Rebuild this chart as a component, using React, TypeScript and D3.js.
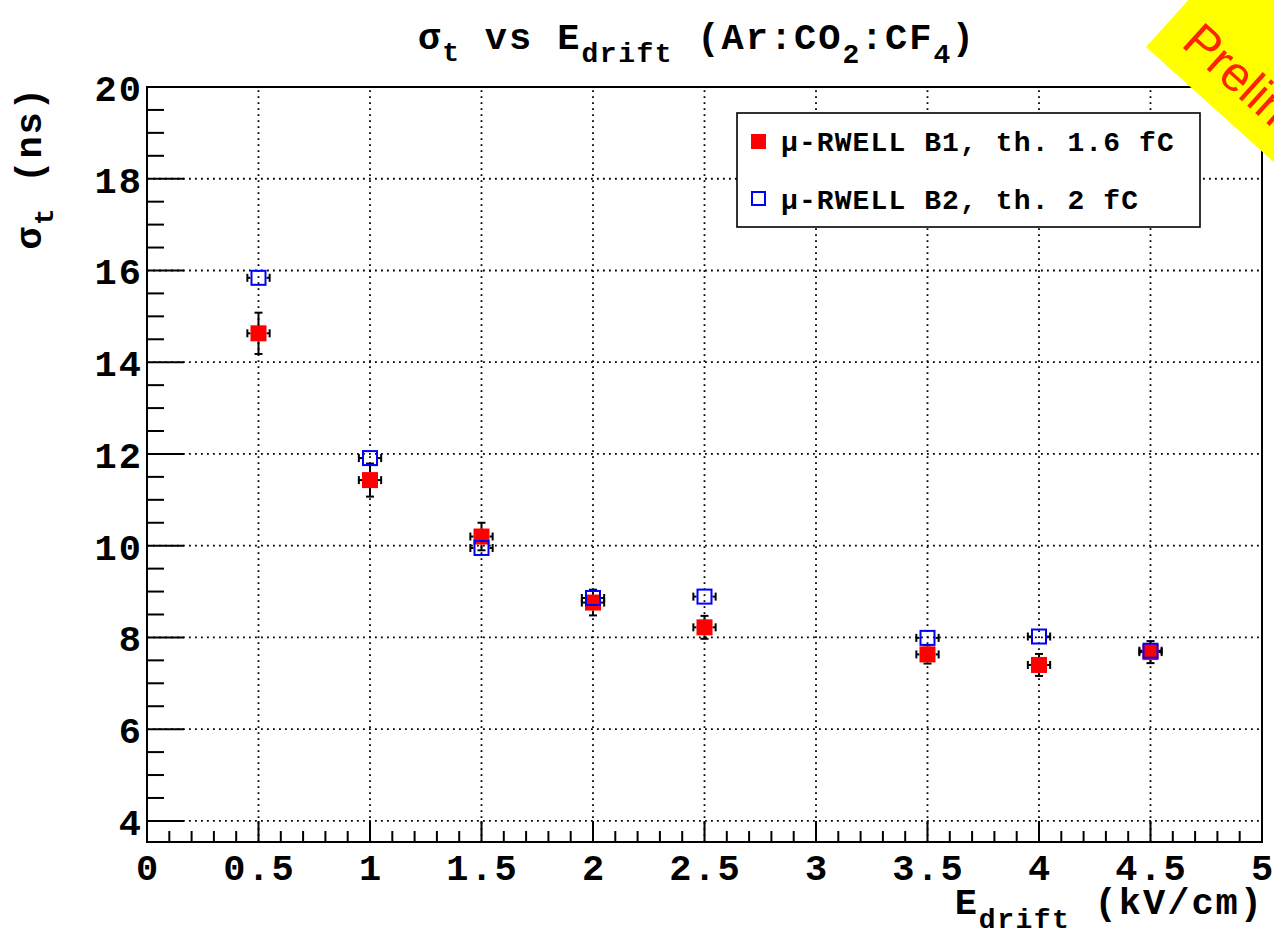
import React from "react";
import * as d3 from "d3";

// ---- data ----
const eDrift = [0.5, 1.0, 1.5, 2.0, 2.5, 3.5, 4.0, 4.5];
const b1Sigma = [14.63, 11.43, 10.2, 8.76, 8.22, 7.63, 7.4, 7.68];
const b1Err = [0.45, 0.36, 0.3, 0.28, 0.25, 0.2, 0.24, 0.24];
const b2Sigma = [15.84, 11.91, 9.95, 8.86, 8.89, 7.99, 8.02, 7.71];
const b2Err = [0.12, 0.12, 0.12, 0.1, 0.1, 0.1, 0.1, 0.1];
const eDriftErr = 0.05;
const xTicks = [0, 0.5, 1, 1.5, 2, 2.5, 3, 3.5, 4, 4.5, 5];
const yTicks = [4, 6, 8, 10, 12, 14, 16, 18, 20];
const legendLabels = ["μ-RWELL B1, th. 1.6 fC", "μ-RWELL B2, th. 2 fC"];

const W = 1274;
const H = 932;
const L = 147, R = 1262, T = 87, B = 842;
const mono = "'Liberation Mono', 'DejaVu Sans Mono', monospace";

export default function App() {
  const x = d3.scaleLinear().domain([0, 5]).range([L, R]);
  const y = d3.scaleLinear().domain([3.54, 20]).range([B, T]);

  const xMinor = d3.range(0, 50.5, 1).map((v) => v / 10).filter((v) => Math.abs(v * 2 - Math.round(v * 2)) > 1e-6);
  const yMinor = d3.range(7, 41, 1).map((v) => v / 2).filter((v) => v >= 3.54 && v <= 20 && Math.abs(v / 2 - Math.round(v / 2)) > 1e-6);

  const h = 8; // marker half size
  const cap = 4;

  const errBars = (vals: number[], errs: number[], key: string) =>
    eDrift.map((xv, i) => {
      const cx = x(xv);
      const cy = y(vals[i]);
      const xl = x(xv - eDriftErr);
      const xr = x(xv + eDriftErr);
      const yt = y(vals[i] + errs[i]);
      const yb = y(vals[i] - errs[i]);
      const segs: JSX.Element[] = [];
      if (cx - xl > h) {
        segs.push(<line key="l" x1={xl} x2={cx - h} y1={cy} y2={cy} />);
        segs.push(<line key="lc" x1={xl} x2={xl} y1={cy - cap} y2={cy + cap} />);
        segs.push(<line key="r" x1={cx + h} x2={xr} y1={cy} y2={cy} />);
        segs.push(<line key="rc" x1={xr} x2={xr} y1={cy - cap} y2={cy + cap} />);
      }
      if (cy - yt > h) {
        segs.push(<line key="t" x1={cx} x2={cx} y1={yt} y2={cy - h} />);
        segs.push(<line key="tc" x1={cx - cap} x2={cx + cap} y1={yt} y2={yt} />);
        segs.push(<line key="b" x1={cx} x2={cx} y1={cy + h} y2={yb} />);
        segs.push(<line key="bc" x1={cx - cap} x2={cx + cap} y1={yb} y2={yb} />);
      }
      return (
        <g key={key + i} stroke="#000" strokeWidth={2}>
          {segs}
        </g>
      );
    });

  const mainFs = 37, mainLs = 2, subFs = 28, subLs = 1.5;

  return (
    <svg
      width={W}
      height={H}
      style={{ position: "absolute", left: 0, top: 0, background: "#fff" }}
      fontFamily={mono}
    >
      <rect x={0} y={0} width={W} height={H} fill="#fff" />

      {/* grid */}
      <g stroke="#000" strokeWidth={1.8} strokeDasharray="1.8 4.2">
        {xTicks.filter((v) => v > 0 && v < 5).map((v) => (
          <line key={"gx" + v} x1={x(v)} x2={x(v)} y1={B} y2={T} />
        ))}
        {yTicks.filter((v) => v < 20).map((v) => (
          <line key={"gy" + v} x1={L} x2={R} y1={y(v)} y2={y(v)} />
        ))}
      </g>

      {/* ticks */}
      <g stroke="#000" strokeWidth={2}>
        {xTicks.map((v) => (
          <line key={"tx" + v} x1={x(v)} x2={x(v)} y1={B} y2={B - 21} />
        ))}
        {xMinor.map((v) => (
          <line key={"mx" + v} x1={x(v)} x2={x(v)} y1={B} y2={B - 11} />
        ))}
        {yTicks.map((v) => (
          <line key={"ty" + v} x1={L} x2={L + 37} y1={y(v)} y2={y(v)} />
        ))}
        {yMinor.map((v) => (
          <line key={"my" + v} x1={L} x2={L + 17} y1={y(v)} y2={y(v)} />
        ))}
      </g>

      {/* frame */}
      <rect x={L} y={T} width={R - L} height={B - T} fill="none" stroke="#000" strokeWidth={2} />

      {/* tick labels */}
      <g fontSize={mainFs} fontWeight="bold" letterSpacing={mainLs} fill="#000">
        {xTicks.map((v) => (
          <text key={"lx" + v} x={x(v) + 1} y={880} textAnchor="middle">
            {String(v)}
          </text>
        ))}
        {yTicks.map((v) => (
          <text key={"ly" + v} x={143} y={y(v) + 14} textAnchor="end">
            {String(v)}
          </text>
        ))}
      </g>

      {/* series B1: red filled squares */}
      {errBars(b1Sigma, b1Err, "e1")}
      {eDrift.map((xv, i) => (
        <rect key={"m1" + i} x={x(xv) - h} y={y(b1Sigma[i]) - h} width={2 * h} height={2 * h} fill="#ff0000" />
      ))}

      {/* series B2: blue open squares */}
      {errBars(b2Sigma, b2Err, "e2")}
      {eDrift.map((xv, i) => (
        <rect
          key={"m2" + i}
          x={x(xv) - h + 1}
          y={y(b2Sigma[i]) - h + 1}
          width={2 * h - 2}
          height={2 * h - 2}
          fill="none"
          stroke="#0000ff"
          strokeWidth={2}
        />
      ))}

      {/* legend */}
      <rect x={737} y={113} width={463} height={114} fill="#fff" stroke="#000" strokeWidth={1.6} />
      <rect x={751} y={134} width={15} height={15} fill="#ff0000" />
      <rect x={752} y={192} width={13} height={13} fill="none" stroke="#0000ff" strokeWidth={2} />
      <g fontSize={28} fontWeight="bold" letterSpacing={1.1} fill="#000">
        <text x={781} y={151}>{legendLabels[0]}</text>
        <text x={781} y={209}>{legendLabels[1]}</text>
      </g>

      {/* title */}
      <text x={418} y={49} fontWeight="bold" fill="#000" fontSize={mainFs} letterSpacing={mainLs}>
        <tspan>σ</tspan>
        <tspan fontSize={subFs} letterSpacing={subLs} dy={12}>t</tspan>
        <tspan dy={-12} xmlSpace="preserve">{"\u00a0vs\u00a0E"}</tspan>
        <tspan fontSize={subFs} letterSpacing={subLs} dy={13}>drift</tspan>
        <tspan dy={-13}>{"\u00a0(Ar:CO"}</tspan>
        <tspan fontSize={subFs} letterSpacing={subLs} dy={14}>2</tspan>
        <tspan dy={-14}>:CF</tspan>
        <tspan fontSize={subFs} letterSpacing={subLs} dy={14}>4</tspan>
        <tspan dy={-14}>)</tspan>
      </text>

      {/* x axis title */}
      <text x={1264} y={914} textAnchor="end" fontWeight="bold" fill="#000" fontSize={mainFs} letterSpacing={mainLs}>
        <tspan>E</tspan>
        <tspan fontSize={subFs} letterSpacing={subLs} dy={14}>drift</tspan>
        <tspan dy={-14}>{"\u00a0(kV/cm)"}</tspan>
      </text>

      {/* y axis title */}
      <g transform="translate(41,86) rotate(-90)">
        <text x={0} y={0} textAnchor="end" fontWeight="bold" fill="#000" fontSize={mainFs} letterSpacing={mainLs}>
          <tspan>σ</tspan>
          <tspan fontSize={subFs} letterSpacing={subLs} dy={12}>t</tspan>
          <tspan dy={-12}>{"\u00a0(ns)"}</tspan>
        </text>
      </g>

      {/* Preliminary banner */}
      <g transform="translate(1146,47) rotate(42)">
        <rect x={0} y={-140} width={420} height={140} fill="#ffff00" />
        <text x={24} y={-24} fontFamily="'Liberation Sans', Arial, sans-serif" fontSize={49} fill="#ff2200">
          Preliminary
        </text>
      </g>
    </svg>
  );
}
